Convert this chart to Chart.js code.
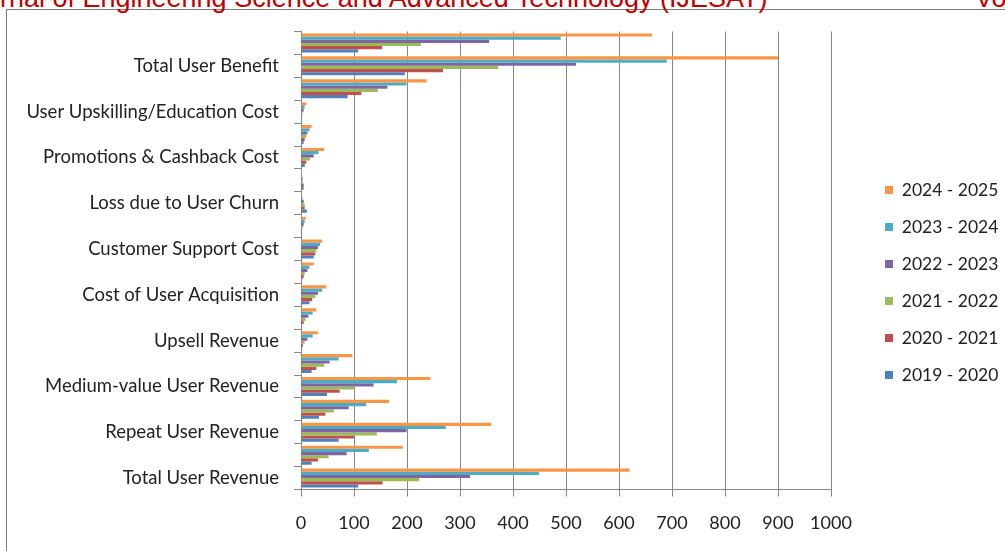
<!DOCTYPE html>
<html>
<head>
<meta charset="utf-8">
<script src="https://cdn.jsdelivr.net/npm/chart.js@4.4.1/dist/chart.umd.min.js"></script>
<style>
  html, body { margin: 0; padding: 0; background: #fff; overflow: hidden; width: 1005px; height: 551px; }
  #frame { position: absolute; left: 6px; top: 9px; width: 1100px; height: 600px; border-top: 1px solid #7f7f7f; border-left: 1px solid #7f7f7f; }
  .head { position: absolute; top: -15.5px; font-family: "Liberation Sans", Arial, sans-serif; font-size: 27px; line-height: 27px; color: #c00000; white-space: nowrap; }
  #chart { position: absolute; left: 7px; top: 10px; }
</style>
</head>
<body>
<div id="frame"></div>
<div class="head" id="journal">Journal of Engineering Science and Advanced Technology (IJESAT)</div>
<div class="head" id="vol" style="left:975px">Volume</div>
<canvas id="chart" width="1000" height="540"></canvas>
<script>
// categories, top to bottom
const categories = [
    "Net User Benefit",
    "Total User Benefit",
    "Total User Cost",
    "User Upskilling/Education Cost",
    "Loyalty Rewards Cost",
    "Promotions & Cashback Cost",
    "Refunds & Chargebacks",
    "Loss due to User Churn",
    "Platform Maintenance Cost",
    "Customer Support Cost",
    "Cost of User Retention",
    "Cost of User Acquisition",
    "Cross-sell Revenue",
    "Upsell Revenue",
    "Low-value User Revenue",
    "Medium-value User Revenue",
    "High-value User Revenue",
    "Repeat User Revenue",
    "New User Revenue",
    "Total User Revenue"
];

const years = ["2024 - 2025", "2023 - 2024", "2022 - 2023", "2021 - 2022", "2020 - 2021", "2019 - 2020"];

const y2024_25 = [662, 900, 237, 10, 20, 44, 2, 1.5, 9, 40, 24, 48, 29, 32, 97, 244, 166, 359, 192, 620];
const y2023_24 = [490, 690, 199, 7, 16, 33, 2, 3, 7, 36, 16, 40, 22, 22, 71, 181, 123, 273, 128, 449];
const y2022_23 = [355, 519, 163, 5, 12, 24, 3, 5, 5, 32, 12, 32, 14, 12, 54, 137, 90, 199, 86, 319];
const y2021_22 = [226, 372, 145, 3, 10, 17, 3, 7, 3, 29, 7, 27, 8.5, 7, 44, 102, 62, 143, 52, 223];
const y2020_21 = [153, 268, 114, 2, 7, 10, 5, 7, 2, 27, 5, 21, 5, 3.5, 29, 73, 46, 100, 32, 154];
const y2019_20 = [108, 196, 88, 1.5, 5, 7, 5, 11, 1.5, 24, 2, 16, 2, 1.5, 20, 49, 34, 71, 20, 108];

const xTicks = [0, 100, 200, 300, 400, 500, 600, 700, 800, 900, 1000];

const seriesData = [y2024_25, y2023_24, y2022_23, y2021_22, y2020_21, y2019_20];
const colors = ["#F79646", "#4BACC6", "#8064A2", "#9BBB59", "#C0504D", "#4F81BD"];

// hide the "Jou" of the header, like the cropped page
const jm = document.createElement('span');
jm.className = 'head';
jm.style.visibility = 'hidden';
jm.textContent = 'Jou';
document.body.appendChild(jm);
document.getElementById('journal').style.left = (-jm.getBoundingClientRect().width) + 'px';

const FONT = 'Lato';
const CAT_SIZE = 18.5;
const FSIZE = 18;
const LEG_SIZE = 17.5;
const LEG_PAD = 19.5;
const LEG_BOX = 8;

// legend width (chart.js adds 10) so the plot ends at x=1000
const mctx = document.createElement('canvas').getContext('2d');
mctx.font = LEG_SIZE + 'px ' + FONT;
const legTextW = Math.max(...years.map(t => mctx.measureText(t).width));
const legendW = LEG_PAD + LEG_BOX + LEG_SIZE / 2 + legTextW + 10;
const padRight = 1000 - 824 - legendW;

Chart.defaults.font.family = FONT;
Chart.defaults.font.size = FSIZE;
Chart.defaults.color = '#222';

// push the legend a bit right of the plot
const legendGap = {
    id: 'legendGap',
    afterLayout(chart) {
        chart.legend.left += 34.5;
        chart.legend.right += 34.5;
    }
};

new Chart(document.getElementById('chart'), {
    type: 'bar',
    data: {
        labels: categories,
        datasets: years.map((y, i) => ({
            label: y,
            data: seriesData[i],
            backgroundColor: colors[i],
            borderWidth: 0,
            categoryPercentage: 0.83,
            barPercentage: 1
        }))
    },
    options: {
        indexAxis: 'y',
        responsive: false,
        animation: false,
        layout: { padding: { top: 21.5, bottom: 16.5, left: 0, right: padRight } },
        scales: {
            x: {
                min: 0,
                max: 1000,
                afterBuildTicks: (s) => { s.ticks = xTicks.map(v => ({ value: v })); },
                afterFit: (s) => { s.height = 44; },
                grid: { color: '#868686', tickLength: 7 },
                border: { color: '#868686' },
                ticks: { padding: 16, maxRotation: 0, callback: (v) => String(v) }
            },
            y: {
                afterFit: (s) => { s.width = 294; s.paddingTop = 0; s.paddingBottom = 0; },
                grid: { drawOnChartArea: false, tickLength: 7, color: '#868686', offset: true },
                border: { color: '#868686' },
                ticks: {
                    autoSkip: false,
                    padding: 15,
                    font: { size: CAT_SIZE },
                    callback: function (v, i) { return i % 2 === 1 ? this.getLabelForValue(v) : ''; }
                }
            }
        },
        plugins: {
            legend: {
                position: 'right',
                labels: { boxWidth: LEG_BOX, boxHeight: LEG_BOX, padding: LEG_PAD, font: { size: LEG_SIZE } }
            },
            tooltip: { enabled: false }
        }
    },
    plugins: [legendGap]
});
</script>
</body>
</html>
